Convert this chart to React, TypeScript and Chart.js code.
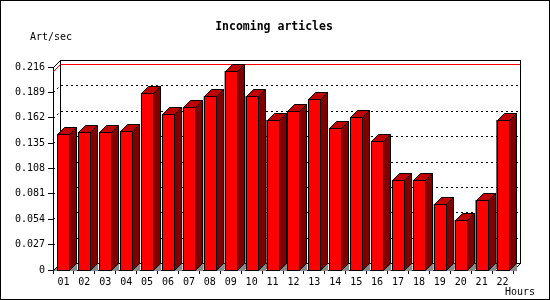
import React, { useEffect, useRef } from 'react';
import { Chart, registerables } from 'chart.js';

Chart.register(...registerables);

// ---- data ----
const hours = ['01', '02', '03', '04', '05', '06', '07', '08', '09', '10', '11', '12', '13', '14', '15', '16', '17', '18', '19', '20', '21', '22'];
const artPerSec = [0.1444, 0.1465, 0.1465, 0.1476, 0.188, 0.1657, 0.1731, 0.1848, 0.2117, 0.1848, 0.1593, 0.1688, 0.1816, 0.1507, 0.1625, 0.1369, 0.0954, 0.0954, 0.0699, 0.0529, 0.0741, 0.1593];
const yTickValues = [0, 0.027, 0.054, 0.081, 0.108, 0.135, 0.162, 0.189, 0.216];
const chartTitle = 'Incoming articles';
const yAxisTitle = 'Art/sec';
const xAxisTitle = 'Hours';

const DEPTH = 7;
const MONO = '"DejaVu Sans Mono", monospace';

const jp3dPlugin = {
  id: 'jp3d',
  beforeDraw(chart: any) {
    const ctx = chart.ctx;
    ctx.save();
    ctx.fillStyle = '#ffffff';
    ctx.fillRect(0, 0, chart.width, chart.height);
    ctx.restore();
  },
  beforeDatasetsDraw(chart: any) {
    const ctx = chart.ctx;
    const { left, right, top, bottom } = chart.chartArea;
    const L = Math.round(left), R = Math.round(right), T = Math.round(top), B = Math.round(bottom);
    const ys = chart.scales.y;
    ctx.save();
    ctx.lineWidth = 1;
    // floor triangle left
    ctx.fillStyle = '#888888';
    ctx.beginPath();
    ctx.moveTo(L, B + 1);
    ctx.lineTo(L + DEPTH + 1, B - DEPTH);
    ctx.lineTo(L + DEPTH + 1, B + 1);
    ctx.closePath();
    ctx.fill();
    // back plane frame
    ctx.strokeStyle = '#000000';
    ctx.strokeRect(L + DEPTH + 0.5, T - DEPTH + 0.5, R - L, B - T);
    // diagonals
    ctx.beginPath();
    ctx.moveTo(L + 0.5, T + 0.5);
    ctx.lineTo(L + DEPTH + 0.5, T - DEPTH + 0.5);
    ctx.moveTo(L + 0.5, B + 0.5);
    ctx.lineTo(L + DEPTH + 0.5, B - DEPTH + 0.5);
    ctx.moveTo(R + 0.5, B + 0.5);
    ctx.lineTo(R + DEPTH + 0.5, B - DEPTH + 0.5);
    ctx.stroke();
    // dotted grid lines on back plane
    ctx.setLineDash([2, 3]);
    yTickValues.forEach((v) => {
      if (v <= 0 || v >= yTickValues[yTickValues.length - 1]) return;
      const yf = Math.round(ys.getPixelForValue(v));
      const yb = yf - DEPTH;
      ctx.beginPath();
      ctx.moveTo(L + DEPTH + 1, yb + 0.5);
      ctx.lineTo(R + DEPTH, yb + 0.5);
      ctx.stroke();
      ctx.beginPath();
      ctx.moveTo(L + 0.5, yf + 0.5);
      ctx.lineTo(L + DEPTH + 0.5, yb + 0.5);
      ctx.stroke();
    });
    ctx.setLineDash([]);
    // max line in red
    const maxVal = Math.max(...artPerSec);
    const ym = Math.round(ys.getPixelForValue(maxVal));
    ctx.strokeStyle = '#ff0000';
    ctx.beginPath();
    ctx.moveTo(L + DEPTH + 1, ym - DEPTH + 0.5);
    ctx.lineTo(R + DEPTH, ym - DEPTH + 0.5);
    ctx.moveTo(L + 0.5, ym + 0.5);
    ctx.lineTo(L + DEPTH + 0.5, ym - DEPTH + 0.5);
    ctx.stroke();
    ctx.restore();
  },
  afterDatasetsDraw(chart: any) {
    const ctx = chart.ctx;
    const meta = chart.getDatasetMeta(0);
    ctx.save();
    ctx.lineWidth = 1;
    ctx.strokeStyle = '#000000';
    meta.data.forEach((el: any) => {
      const w = 12;
      const x0 = Math.round(el.x - w / 2);
      const x1 = x0 + w;
      const yt = Math.round(el.y);
      const yb = Math.round(el.base);
      // floor shadow
      ctx.fillStyle = '#888888';
      ctx.beginPath();
      ctx.moveTo(x1, yb + 1);
      ctx.lineTo(x1 + DEPTH + 1, yb - DEPTH);
      ctx.lineTo(x1 + DEPTH + 1, yb + 1);
      ctx.closePath();
      ctx.fill();
      // front
      ctx.fillStyle = '#ff0000';
      ctx.fillRect(x0, yt, w, yb - yt + 1);
      ctx.strokeRect(x0 + 0.5, yt + 0.5, w, yb - yt);
      // top
      ctx.fillStyle = '#c00000';
      ctx.beginPath();
      ctx.moveTo(x0 + 0.5, yt + 0.5);
      ctx.lineTo(x0 + DEPTH + 0.5, yt - DEPTH + 0.5);
      ctx.lineTo(x1 + DEPTH + 0.5, yt - DEPTH + 0.5);
      ctx.lineTo(x1 + 0.5, yt + 0.5);
      ctx.closePath();
      ctx.fill();
      ctx.stroke();
      // side
      ctx.fillStyle = '#800000';
      ctx.beginPath();
      ctx.moveTo(x1 + 0.5, yt + 0.5);
      ctx.lineTo(x1 + DEPTH + 0.5, yt - DEPTH + 0.5);
      ctx.lineTo(x1 + DEPTH + 0.5, yb - DEPTH + 0.5);
      ctx.lineTo(x1 + 0.5, yb + 0.5);
      ctx.closePath();
      ctx.fill();
      ctx.stroke();
    });
    ctx.restore();
  },
  afterDraw(chart: any) {
    const ctx = chart.ctx;
    ctx.save();
    ctx.strokeStyle = '#000000';
    ctx.lineWidth = 1;
    ctx.strokeRect(0.5, 0.5, chart.width - 1, chart.height - 1);
    ctx.fillStyle = '#000000';
    ctx.textBaseline = 'middle';
    ctx.font = `bold 11.5px ${MONO}`;
    ctx.textAlign = 'center';
    ctx.fillText(chartTitle, 274, 27);
    ctx.font = `10px ${MONO}`;
    ctx.textAlign = 'left';
    ctx.fillText(yAxisTitle, 30, 37);
    ctx.textAlign = 'right';
    ctx.fillText(xAxisTitle, 535, 292);
    ctx.restore();
  },
};

export default function App() {
  const ref = useRef<HTMLCanvasElement>(null);
  useEffect(() => {
    document.body.style.margin = '0';
    const canvas = ref.current!;
    const chart = new Chart(canvas, {
      type: 'bar',
      data: {
        labels: hours,
        datasets: [
          {
            label: yAxisTitle,
            data: artPerSec,
            backgroundColor: '#ff0000',
            borderColor: '#000000',
            borderWidth: 1,
            barThickness: 12,
          },
        ],
      },
      options: {
        animation: false,
        responsive: false,
        devicePixelRatio: 1,
        layout: { padding: { left: 0, right: 37, top: 67, bottom: 0 } },
        plugins: {
          legend: { display: false },
          title: { display: false },
          tooltip: { enabled: false },
        },
        scales: {
          x: {
            grid: { offset: true, drawOnChartArea: false, drawTicks: true, tickLength: 4, color: '#000000' },
            border: { color: '#000000', width: 1 },
            ticks: { color: '#000000', font: { family: MONO, size: 10 }, padding: 2, maxRotation: 0, autoSkip: false },
            afterFit: (s: any) => { s.height = 30; },
          },
          y: {
            min: 0,
            max: 0.216,
            afterBuildTicks: (s: any) => { s.ticks = yTickValues.map((v) => ({ value: v })); },
            grid: { drawOnChartArea: false, drawTicks: true, tickLength: 5, color: '#000000' },
            border: { color: '#000000', width: 1 },
            ticks: {
              color: '#000000',
              font: { family: MONO, size: 10 },
              padding: 3,
              callback: (v: any) => (Number(v) === 0 ? '0' : Number(v).toFixed(3)),
            },
            afterFit: (s: any) => { s.width = 53; },
          },
        },
      },
      plugins: [jp3dPlugin],
    });
    return () => chart.destroy();
  }, []);
  return <canvas ref={ref} width={550} height={300} style={{ display: 'block' }} />;
}
